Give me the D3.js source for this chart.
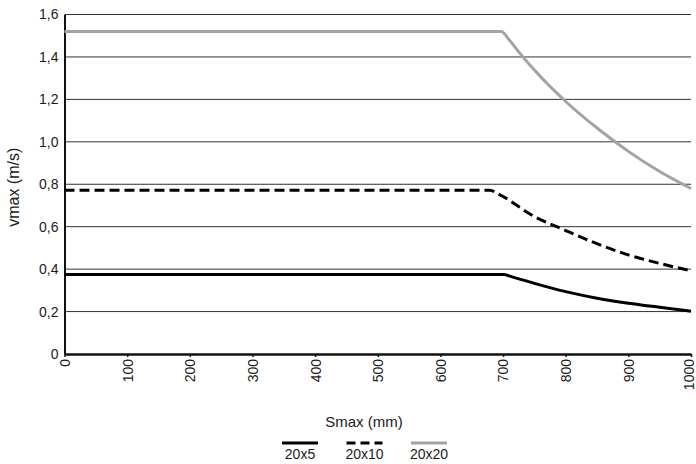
<!DOCTYPE html>
<html>
<head>
<meta charset="utf-8">
<script src="https://cdn.jsdelivr.net/npm/d3@7"></script>
<style>
  body { margin: 0; background: #fff; }
  text { font-family: "Liberation Sans", Arial, Helvetica, sans-serif; fill: #1a1a1a; }
</style>
</head>
<body>
<div id="chartDiv"></div>
<script>
// series data (stroke in mm, speed in m/s)
var seriesNames = ["20x5", "20x10", "20x20"];
var strokes5 = [0, 701, 712, 750, 800, 850, 900, 950, 1000];
var v20x5  = [0.375, 0.375, 0.366, 0.333, 0.294, 0.263, 0.239, 0.220, 0.202];
var strokes10 = [0, 679, 692, 750, 800, 850, 900, 950, 1000];
var v20x10 = [0.772, 0.772, 0.755, 0.648, 0.582, 0.52, 0.467, 0.427, 0.392];
var strokes20 = [0, 697, 710, 725, 750, 800, 850, 900, 950, 1000];
var v20x20 = [1.52, 1.52, 1.48, 1.424, 1.338, 1.19, 1.065, 0.955, 0.86, 0.78];
var xTicks = [0, 100, 200, 300, 400, 500, 600, 700, 800, 900, 1000];
var yTicks = [0, 0.2, 0.4, 0.6, 0.8, 1.0, 1.2, 1.4, 1.6];

var width = 696, height = 464;
var margin = { left: 64.5, right: 5, top: 14.5, bottom: 110 };

var svg = d3.select("#chartDiv")
            .append("svg")
            .attr("width", width)
            .attr("height", height);

var xScale = d3.scaleLinear()
               .domain([0, 1000])
               .range([margin.left, 691]);
var yScale = d3.scaleLinear()
               .domain([0, 1.6])
               .range([354, margin.top]);

function fmt(d) {
    return d === 0 ? "0" : d3.format(".1f")(d).replace(".", ",");
}

// horizontal gridlines
svg.append("g")
   .selectAll("line")
   .data(yTicks.filter(function(d) { return d > 0; }))
   .enter()
   .append("line")
   .attr("x1", xScale(0))
   .attr("x2", xScale(1000))
   .attr("y1", function(d) { return yScale(d); })
   .attr("y2", function(d) { return yScale(d); })
   .attr("stroke", "#333")
   .attr("stroke-width", 1);

// y axis
var yAxis = svg.append("g")
   .attr("transform", "translate(" + margin.left + ",0)")
   .call(d3.axisLeft(yScale).tickValues(yTicks).tickFormat(fmt).tickSize(0).tickPadding(6));
yAxis.select(".domain").attr("stroke", "#111").attr("stroke-width", 2);
yAxis.selectAll("text").style("font-size", "14px").attr("fill", "#1a1a1a");

// x axis
var xAxis = svg.append("g")
   .attr("transform", "translate(0," + yScale(0) + ")")
   .call(d3.axisBottom(xScale).tickValues(xTicks).tickFormat(d3.format("d")).tickSizeOuter(0).tickSizeInner(3));
xAxis.select(".domain").attr("stroke", "#111").attr("stroke-width", 2.5);
xAxis.selectAll(".tick line").attr("stroke", "#111").attr("stroke-width", 1.5);
xAxis.selectAll("text")
     .style("font-size", "14px")
     .attr("fill", "#1a1a1a")
     .attr("transform", "rotate(-90)")
     .attr("text-anchor", "end")
     .attr("x", -5)
     .attr("y", function(d) { return d === 1000 ? -2.5 : 0; })
     .attr("dy", "0.35em");

// lines
var line = d3.line()
             .x(function(d) { return xScale(d[0]); })
             .y(function(d) { return yScale(d[1]); })
             .curve(d3.curveMonotoneX);

var series = [
    { name: seriesNames[0], pts: d3.zip(strokes5, v20x5), color: "#000", dash: null },
    { name: seriesNames[1], pts: d3.zip(strokes10, v20x10), color: "#000", dash: "10,5" },
    { name: seriesNames[2], pts: d3.zip(strokes20, v20x20), color: "#a3a3a3", dash: null }
];

svg.selectAll("path.series")
   .data(series)
   .enter()
   .append("path")
   .attr("class", "series")
   .attr("d", function(d) { return line(d.pts); })
   .attr("fill", "none")
   .attr("stroke", function(d) { return d.color; })
   .attr("stroke-width", 3)
   .attr("stroke-dasharray", function(d) { return d.dash; });

// axis titles
svg.append("text")
   .attr("transform", "translate(19," + ((yScale(0) + yScale(1.6)) / 2 + 3) + ") rotate(-90)")
   .attr("text-anchor", "middle")
   .style("font-size", "16px")
   .text("vmax (m/s)");

svg.append("text")
   .attr("x", 364)
   .attr("y", 427)
   .attr("text-anchor", "middle")
   .style("font-size", "15px")
   .text("Smax (mm)");

// legend
var legend = svg.selectAll("g.legend")
   .data(series)
   .enter()
   .append("g")
   .attr("class", "legend")
   .attr("transform", function(d, i) { return "translate(" + (300 + i * 64.5) + ",0)"; });

legend.append("line")
      .attr("x1", -18).attr("x2", 18)
      .attr("y1", 443).attr("y2", 443)
      .attr("stroke", function(d) { return d.color; })
      .attr("stroke-width", 3)
      .attr("stroke-dasharray", function(d) { return d.dash ? "9,5" : null; });

legend.append("text")
      .attr("x", 0)
      .attr("y", 459)
      .attr("text-anchor", "middle")
      .style("font-size", "14px")
      .text(function(d) { return d.name; });
</script>
</body>
</html>
